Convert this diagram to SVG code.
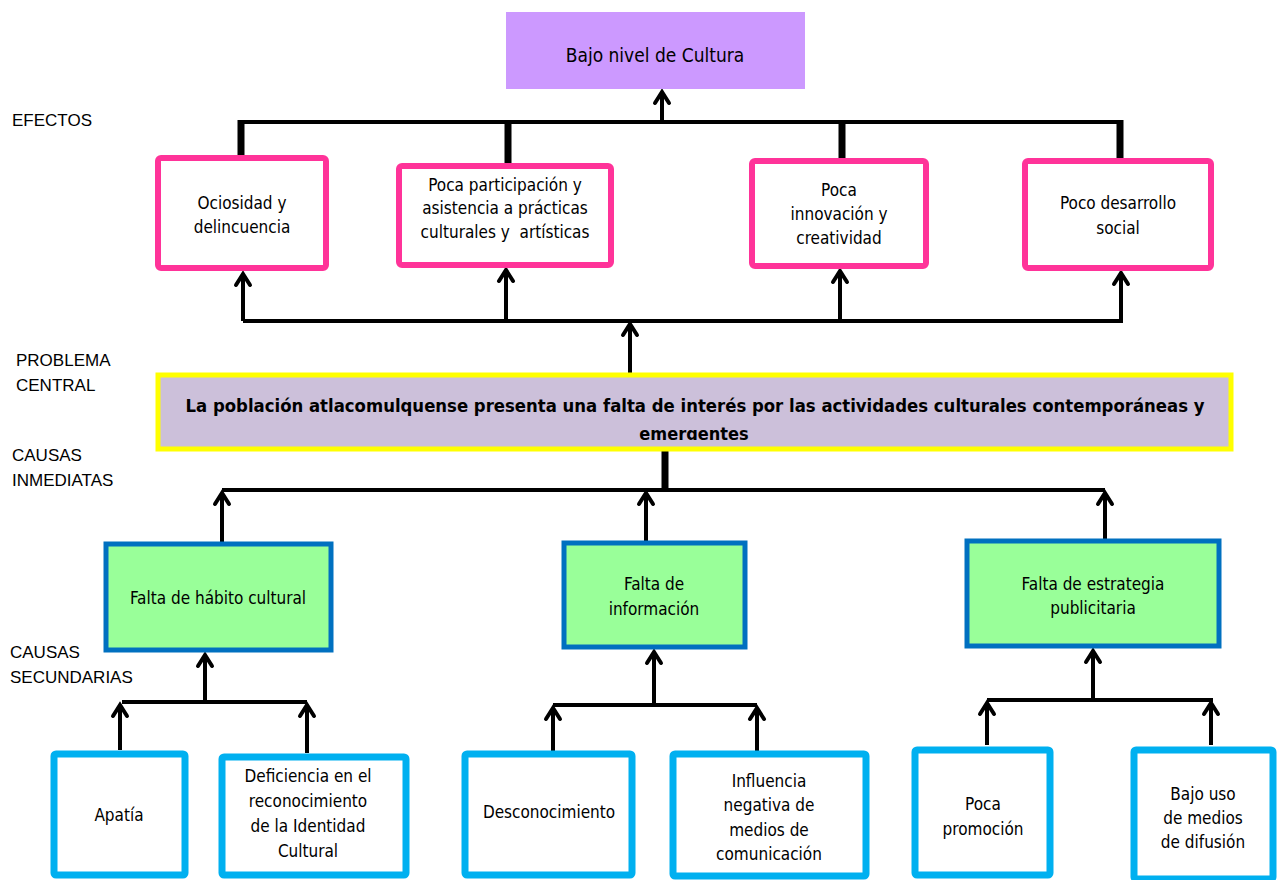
<svg xmlns="http://www.w3.org/2000/svg" width="1282" height="880" viewBox="0 0 1282 880">
<style>
text{font-family:"DejaVu Sans Condensed","Liberation Sans Narrow","Liberation Sans",sans-serif;font-size:17px;fill:#000;text-anchor:middle}
.side{text-anchor:start;font-family:"Liberation Sans",Arial,sans-serif;font-size:17px}
.eff{fill:#fff;stroke:#FF3399;stroke-width:6}
.inm{fill:#99FF99;stroke:#0070C0;stroke-width:5}
.sec{fill:#fff;stroke:#00B0F0;stroke-width:7}
.ln{stroke:#000;stroke-width:4;fill:none}
.thk{stroke:#000;stroke-width:7;fill:none}
.ar{stroke:#000;stroke-width:4;fill:none;marker-end:url(#chev)}
</style>
<defs>
<marker id="chev" markerUnits="userSpaceOnUse" orient="auto" markerWidth="20" markerHeight="20" refX="0" refY="0" viewBox="-12 -10 14 20" overflow="visible">
<path d="M-11,-7 L0,0 L-11,7" fill="none" stroke="#000" stroke-width="4" stroke-linecap="round" stroke-linejoin="miter"/>
</marker>
<clipPath id="pclip"><rect x="160" y="377" width="1069" height="63"/></clipPath>
</defs>

<g id="labels">
<text class="side" x="12" y="126">EFECTOS</text>
<text class="side" x="16" y="366">PROBLEMA</text>
<text class="side" x="16" y="391">CENTRAL</text>
<text class="side" x="12" y="461">CAUSAS</text>
<text class="side" x="12" y="486">INMEDIATAS</text>
<text class="side" x="10" y="658">CAUSAS</text>
<text class="side" x="10" y="683">SECUNDARIAS</text>
</g>

<g id="connectors">
<path class="ar" d="M662,122 L662,92"/>
<path class="ln" d="M240,122 L1122,122"/>
<path class="thk" d="M241,120 L241,160 M508,120 L508,164 M842,120 L842,160 M1120,120 L1120,163"/>
<path class="ln" d="M243,321 L1123,321"/>
<path class="ar" d="M243,321 L243,274"/>
<path class="ar" d="M506,321 L506,270"/>
<path class="ar" d="M840,321 L840,271"/>
<path class="ar" d="M1121,321 L1121,273"/>
<path class="ar" d="M630,375 L630,324"/>
<path class="thk" d="M665,450 L665,492"/>
<path class="ln" d="M222,490 L1105,490"/>
<path class="ar" d="M222,543 L222,493"/>
<path class="ar" d="M646,541 L646,493"/>
<path class="ar" d="M1105,539 L1105,493"/>
<path class="ln" d="M122,702 L307,702"/>
<path class="ar" d="M205,702 L205,655"/>
<path class="ar" d="M120,750 L120,705"/>
<path class="ar" d="M307,753 L307,705"/>
<path class="ln" d="M553,705 L757,705"/>
<path class="ar" d="M654,705 L654,652"/>
<path class="ar" d="M553,752 L553,708"/>
<path class="ar" d="M757,752 L757,708"/>
<path class="ln" d="M987,700 L1213,700"/>
<path class="ar" d="M1093,700 L1093,651"/>
<path class="ar" d="M987,745 L987,703"/>
<path class="ar" d="M1211,745 L1211,703"/>
</g>

<g id="top">
<rect x="506" y="12" width="299" height="77" fill="#CC99FF"/>
<text x="655" y="62" style="font-size:19px">Bajo nivel de Cultura</text>
</g>

<g id="e1"><rect class="eff" x="158" y="158" width="168" height="110" rx="3"/>
<text x="242" y="209">Ociosidad y</text><text x="242" y="233">delincuencia</text></g>
<g id="e2"><rect class="eff" x="399" y="166" width="212" height="99" rx="3"/>
<text x="505" y="191">Poca participación y</text><text x="505" y="214">asistencia a prácticas</text><text x="505" y="238">culturales y&#160; artísticas</text></g>
<g id="e3"><rect class="eff" x="752" y="161" width="174" height="105" rx="3"/>
<text x="839" y="196">Poca</text><text x="839" y="220">innovación y</text><text x="839" y="244">creatividad</text></g>
<g id="e4"><rect class="eff" x="1025" y="161" width="186" height="107" rx="3"/>
<text x="1118" y="209">Poco desarrollo</text><text x="1118" y="234">social</text></g>

<g id="problem">
<rect x="158" y="375" width="1073" height="74" fill="#CCC0DA" stroke="#FFFF00" stroke-width="5"/>
<g clip-path="url(#pclip)">
<text x="695" y="412" textLength="1019" lengthAdjust="spacingAndGlyphs" style="font-weight:bold;font-size:18px">La población atlacomulquense presenta una falta de interés por las actividades culturales contemporáneas y</text>
<text x="694" y="440" style="font-weight:bold;font-size:18px">emergentes</text>
</g>
</g>

<g id="i1"><rect class="inm" x="106" y="544" width="225" height="106"/>
<text x="218" y="604">Falta de hábito cultural</text></g>
<g id="i2"><rect class="inm" x="564" y="543" width="181" height="104"/>
<text x="654" y="590">Falta de</text><text x="654" y="615">información</text></g>
<g id="i3"><rect class="inm" x="967" y="541" width="252" height="105"/>
<text x="1093" y="590">Falta de estrategia</text><text x="1093" y="614">publicitaria</text></g>

<g id="s1"><rect class="sec" x="54" y="754" width="131" height="121" rx="2"/>
<text x="119" y="821">Apatía</text></g>
<g id="s2"><rect class="sec" x="222" y="757" width="184" height="118" rx="2"/>
<text x="308" y="782">Deficiencia en el</text><text x="308" y="807">reconocimiento</text><text x="308" y="832">de la Identidad</text><text x="308" y="857">Cultural</text></g>
<g id="s3"><rect class="sec" x="465" y="754" width="167" height="121" rx="2"/>
<text x="549" y="818">Desconocimiento</text></g>
<g id="s4"><rect class="sec" x="673" y="754" width="193" height="122" rx="2"/>
<text x="769" y="787">Influencia</text><text x="769" y="811">negativa de</text><text x="769" y="836">medios de</text><text x="769" y="860">comunicación</text></g>
<g id="s5"><rect class="sec" x="915" y="750" width="135" height="125" rx="2"/>
<text x="983" y="810">Poca</text><text x="983" y="835">promoción</text></g>
<g id="s6"><rect class="sec" x="1134" y="750" width="139" height="129" rx="2"/>
<text x="1203" y="800">Bajo uso</text><text x="1203" y="824">de medios</text><text x="1203" y="848">de difusión</text></g>
</svg>
